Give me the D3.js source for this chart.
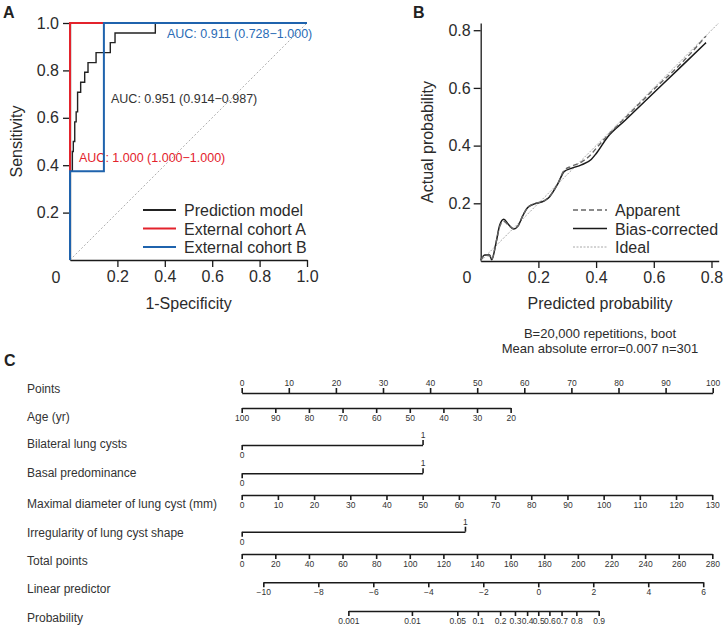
<!DOCTYPE html>
<html><head><meta charset="utf-8">
<script src="https://cdn.jsdelivr.net/npm/d3@7"></script>
<style>
body{margin:0;background:#fff}
text{font-family:Arial,"Liberation Sans",Helvetica,sans-serif}
</style>
</head><body>
<svg id="chart" width="724" height="628"></svg>
<script>
// ---------------- DATA ----------------
// Panel A: ROC curves (false positive rate = 1-specificity, true positive rate = sensitivity)
const rocModelFpr = [0, 0, 0.01, 0.01, 0.014, 0.014, 0.02, 0.02, 0.026, 0.026, 0.032, 0.032, 0.045, 0.045, 0.062, 0.062, 0.076, 0.076, 0.11, 0.11, 0.17, 0.17, 0.19, 0.19, 0.36, 0.36, 1];
const rocModelTpr = [0, 0.375, 0.375, 0.458, 0.458, 0.5, 0.5, 0.583, 0.583, 0.625, 0.625, 0.708, 0.708, 0.75, 0.75, 0.792, 0.792, 0.833, 0.833, 0.875, 0.875, 0.917, 0.917, 0.958, 0.958, 1, 1];
const rocCohortAFpr = [0, 0, 1];
const rocCohortATpr = [0, 1, 1];
const rocCohortBFpr = [0, 0, 0.143, 0.143, 1];
const rocCohortBTpr = [0, 0.375, 0.375, 1, 1];
const rocSeries = ["Prediction model", "External cohort A", "External cohort B"];
const rocAucLabels = ["AUC: 0.951 (0.914\u22120.987)", "AUC: 1.000 (1.000\u22121.000)", "AUC: 0.911 (0.728\u22121.000)"];
const rocTicks = [0.2, 0.4, 0.6, 0.8, 1.0];

// Panel B: calibration curve
const calPredicted = [0, 0.014, 0.031, 0.038, 0.054, 0.066, 0.08, 0.095, 0.115, 0.129, 0.147, 0.164, 0.187, 0.222, 0.239, 0.268, 0.289, 0.314, 0.349, 0.383, 0.40, 0.44, 0.5, 0.6, 0.7, 0.781];
const calApparent  = [0.003, 0.02, 0.018, 0.006, 0.068, 0.12, 0.138, 0.125, 0.112, 0.122, 0.16, 0.187, 0.199, 0.21, 0.225, 0.27, 0.314, 0.328, 0.343, 0.37, 0.39, 0.435, 0.495, 0.595, 0.69, 0.78];
const calBias      = [0.003, 0.021, 0.021, 0.004, 0.067, 0.125, 0.145, 0.128, 0.111, 0.121, 0.159, 0.186, 0.198, 0.209, 0.223, 0.269, 0.31, 0.321, 0.333, 0.352, 0.372, 0.43, 0.487, 0.583, 0.679, 0.757];
const calSeries = ["Apparent", "Bias-corrected", "Ideal"];
const calTicks = [0.2, 0.4, 0.6, 0.8];
const calCaption = ["B=20,000 repetitions, boot", "Mean absolute error=0.007 n=301"];

// Panel C: nomogram
const nomoRows = ["Points", "Age (yr)", "Bilateral lung cysts", "Basal predominance",
  "Maximal diameter of lung cyst (mm)", "Irregularity of lung cyst shape",
  "Total points", "Linear predictor", "Probability"];
const pointsTicks = [0, 10, 20, 30, 40, 50, 60, 70, 80, 90, 100];
const ageTicks = [100, 90, 80, 70, 60, 50, 40, 30, 20];
const agePointsRange = [0, 57.1];          // points at age 100 and 20
const bilateralPoints = [0, 38.4];         // points for 0 and 1
const basalPoints = [0, 38.4];
const diameterTicks = [0, 10, 20, 30, 40, 50, 60, 70, 80, 90, 100, 110, 120, 130];
const diameterPointsRange = [0, 99.9];     // points at 0 and 130 mm
const irregularPoints = [0, 47.4];
const totalTicks = [0, 20, 40, 60, 80, 100, 120, 140, 160, 180, 200, 220, 240, 260, 280];
const lpTicks = [-10, -8, -6, -4, -2, 0, 2, 4, 6];
const lpTotalRange = [12.86, 274.6];       // total points at LP -10 and 6
const probTicks = [0.001, 0.01, 0.05, 0.1, 0.2, 0.3, 0.4, 0.5, 0.6, 0.7, 0.8, 0.9];
const probLabels = ["0.001", "0.01", "0.05", "0.1", "0.2", "0.3", "0.4", "0.5", "0.6", "0.7", "0.8", "0.9"];

// ---------------- DRAW ----------------
const svg = d3.select("#chart");
const TXT = "#2b2b2b";

function styleAxis(g, size, sw) {
  g.selectAll("text").attr("font-size", size).attr("fill", TXT).attr("font-family", "Arial, 'Liberation Sans', sans-serif");
  g.selectAll(".domain").attr("stroke", "#1a1a1a").attr("stroke-width", sw);
  g.selectAll(".tick line").attr("stroke", "#1a1a1a").attr("stroke-width", sw);
}

// Panel labels
[["A", 3, 18], ["B", 413, 18], ["C", 4, 366]].forEach(([t, x, y]) => {
  svg.append("text").attr("x", x).attr("y", y).text(t)
    .attr("font-size", 16).attr("font-weight", "bold").attr("fill", "#222");
});

// ===== Panel A =====
const xA = d3.scaleLinear().domain([0, 1]).range([70, 307]);
const yA = d3.scaleLinear().domain([0, 1]).range([260, 23]);
const gA = svg.append("g");

const axA_x = gA.append("g").attr("transform", "translate(0,260)")
  .call(d3.axisBottom(xA).tickValues(rocTicks).tickSize(7).tickSizeOuter(0).tickPadding(4).tickFormat(d3.format(".1f")));
styleAxis(axA_x, 16, 1.3);
const axA_y = gA.append("g").attr("transform", "translate(70,0)")
  .call(d3.axisLeft(yA).tickValues(rocTicks).tickSize(7).tickSizeOuter(0).tickPadding(4).tickFormat(d3.format(".1f")));
styleAxis(axA_y, 16, 1.3);
gA.append("text").attr("x", 56).attr("y", 283).attr("text-anchor", "middle").attr("font-size", 16).attr("fill", TXT).text("0");
gA.append("text").attr("x", (xA(0) + xA(1)) / 2).attr("y", 309).attr("text-anchor", "middle").attr("font-size", 16).attr("fill", TXT).text("1-Specificity");
gA.append("text").attr("transform", `translate(22,${(yA(0) + yA(1)) / 2}) rotate(-90)`).attr("text-anchor", "middle").attr("font-size", 16).attr("fill", TXT).text("Sensitivity");

// diagonal reference
gA.append("line").attr("x1", xA(0)).attr("y1", yA(0)).attr("x2", xA(1)).attr("y2", yA(1))
  .attr("stroke", "#b0b0b0").attr("stroke-width", 1).attr("stroke-dasharray", "2,2");

// AUC texts
const aucCols = ["#333333", "#e3232c", "#2a6cb6"];
const aucPos = [[0.173, 0.663], [0.038, 0.413], [0.409, 0.937]];
rocAucLabels.forEach((t, i) => {
  gA.append("text").attr("x", xA(aucPos[i][0])).attr("y", yA(aucPos[i][1])).attr("font-size", 12.5).attr("fill", aucCols[i]).text(t);
});

const rocLine = d3.line().x(d => xA(d[0])).y(d => yA(d[1]));
const rocData = [
  [d3.zip(rocModelFpr, rocModelTpr), "#222222", 1.4],
  [d3.zip(rocCohortAFpr, rocCohortATpr), "#e3232c", 2],
  [d3.zip(rocCohortBFpr, rocCohortBTpr), "#1f63ad", 2]
];
rocData.forEach(([d, c, w]) => {
  gA.append("path").datum(d).attr("d", rocLine).attr("fill", "none").attr("stroke", c).attr("stroke-width", w);
});
// legend
rocSeries.forEach((s, i) => {
  const y = 210 + i * 18.5;
  gA.append("line").attr("x1", 143).attr("x2", 176).attr("y1", y).attr("y2", y).attr("stroke", rocData[i][1]).attr("stroke-width", 1.8);
  gA.append("text").attr("x", 184).attr("y", y + 6).attr("font-size", 16).attr("fill", TXT).text(s);
});

// ===== Panel B =====
const xB = d3.scaleLinear().domain([0, 0.825]).range([480.7, 718.7]);
const yB = d3.scaleLinear().domain([0, 0.825]).range([261, 23]);
const gB = svg.append("g");
const axB_x = gB.append("g").attr("transform", "translate(0,261)")
  .call(d3.axisBottom(xB).tickValues(calTicks).tickSize(7).tickSizeOuter(0).tickPadding(4).tickFormat(d3.format(".1f")));
styleAxis(axB_x, 16, 1.3);
const axB_y = gB.append("g").attr("transform", "translate(480.7,0)")
  .call(d3.axisLeft(yB).tickValues(calTicks).tickSize(7).tickSizeOuter(0).tickPadding(3).tickFormat(d3.format(".1f")));
styleAxis(axB_y, 16, 1.3);
gB.append("text").attr("x", 467).attr("y", 283).attr("text-anchor", "middle").attr("font-size", 16).attr("fill", TXT).text("0");
gB.append("text").attr("x", 600).attr("y", 309).attr("text-anchor", "middle").attr("font-size", 16).attr("fill", TXT).text("Predicted probability");
gB.append("text").attr("transform", `translate(433,142) rotate(-90)`).attr("text-anchor", "middle").attr("font-size", 16).attr("fill", TXT).text("Actual probability");
calCaption.forEach((t, i) => {
  gB.append("text").attr("x", 600).attr("y", 338 + i * 15).attr("text-anchor", "middle").attr("font-size", 13).attr("fill", TXT).text(t);
});

gB.append("line").attr("x1", xB(0)).attr("y1", yB(0)).attr("x2", xB(0.825)).attr("y2", yB(0.825))
  .attr("stroke", "#a8a8a8").attr("stroke-width", 1).attr("stroke-dasharray", "2,1.5");
const calLine = d3.line().x(d => xB(d[0])).y(d => yB(d[1])).curve(d3.curveMonotoneX);
gB.append("path").datum(d3.zip(calPredicted, calBias)).attr("d", calLine)
  .attr("fill", "none").attr("stroke", "#1a1a1a").attr("stroke-width", 1.5);
gB.append("path").datum(d3.zip(calPredicted, calApparent)).attr("d", calLine)
  .attr("fill", "none").attr("stroke", "#666").attr("stroke-width", 1.4).attr("stroke-dasharray", "5,3");
const calLeg = [["#666", 1.6, "5,3"], ["#1a1a1a", 1.6, null], ["#a8a8a8", 1, "2,1.5"]];
calSeries.forEach((s, i) => {
  const y = 210 + i * 18.5;
  const l = gB.append("line").attr("x1", 573).attr("x2", 607).attr("y1", y).attr("y2", y)
    .attr("stroke", calLeg[i][0]).attr("stroke-width", calLeg[i][1]);
  if (calLeg[i][2]) l.attr("stroke-dasharray", calLeg[i][2]);
  gB.append("text").attr("x", 615).attr("y", y + 6).attr("font-size", 16).attr("fill", TXT).text(s);
});

// ===== Panel C: nomogram =====
const gC = svg.append("g");
const ptsX = d3.scaleLinear().domain([0, 100]).range([241.7, 712.7]);
const totX = d3.scaleLinear().domain([0, 280]).range([241.7, 712.3]);
const lpX = d3.scaleLinear().domain([-10, 6]).range([totX(lpTotalRange[0]), totX(lpTotalRange[1])]);
const logit = p => Math.log(p / (1 - p));

const rowLineY = [393, 408, 445, 473.3, 495, 531.7, 554, 582.3, 611];
const rowTextY = [388, 416, 443.5, 472.5, 503.5, 532, 560, 588.5, 617];

nomoRows.forEach((r, i) => {
  gC.append("text").attr("x", 27).attr("y", rowTextY[i] + 4.5).attr("font-size", 12).attr("fill", "#333").text(r);
});

function nomoAxis(scale, y, ticks, labels, dir) {
  const ax = (dir === "up" ? d3.axisTop(scale) : d3.axisBottom(scale))
    .tickValues(ticks).tickSize(5).tickSizeOuter(0).tickPadding(2)
    .tickFormat((d, i) => labels[i]);
  const g = gC.append("g").attr("transform", `translate(0,${y})`).call(ax);
  g.selectAll("text").attr("font-size", 8.5).attr("fill", "#333").attr("font-family", "Arial, 'Liberation Sans', sans-serif");
  g.selectAll(".domain").attr("stroke", "#1a1a1a").attr("stroke-width", 1.5);
  g.selectAll(".tick line").attr("stroke", "#1a1a1a").attr("stroke-width", 1.6);
  return g;
}
function binaryAxis(pointsPair, y) {
  const sc = d3.scaleLinear().domain([0, 1]).range([ptsX(pointsPair[0]), ptsX(pointsPair[1])]);
  nomoAxis(sc, y, [0], ["0"], "down");
  const g = nomoAxis(sc, y, [1], ["1"], "up");
  g.select(".domain").remove();
}

// Points
nomoAxis(ptsX, rowLineY[0], pointsTicks, pointsTicks.map(String), "up");
// Age
const ageX = d3.scaleLinear().domain([ageTicks[0], ageTicks[ageTicks.length - 1]]).range(agePointsRange.map(ptsX));
nomoAxis(ageX, rowLineY[1], ageTicks, ageTicks.map(String), "down");
// Bilateral, basal
binaryAxis(bilateralPoints, rowLineY[2]);
binaryAxis(basalPoints, rowLineY[3]);
// Diameter
const diaX = d3.scaleLinear().domain([diameterTicks[0], diameterTicks[diameterTicks.length - 1]]).range(diameterPointsRange.map(ptsX));
nomoAxis(diaX, rowLineY[4], diameterTicks, diameterTicks.map(String), "down");
// Irregularity
binaryAxis(irregularPoints, rowLineY[5]);
// Total points
nomoAxis(totX, rowLineY[6], totalTicks, totalTicks.map(String), "down");
// Linear predictor
nomoAxis(lpX, rowLineY[7], lpTicks, lpTicks.map(d => d < 0 ? "\u2212" + Math.abs(d) : String(d)), "down");
// Probability
const probLogits = probTicks.map(logit);
const probX = d3.scaleLinear().domain([probLogits[0], probLogits[probLogits.length - 1]])
  .range([lpX(probLogits[0]), lpX(probLogits[probLogits.length - 1])]);
nomoAxis(probX, rowLineY[8], probLogits, probLabels, "down");
</script>
</body></html>
